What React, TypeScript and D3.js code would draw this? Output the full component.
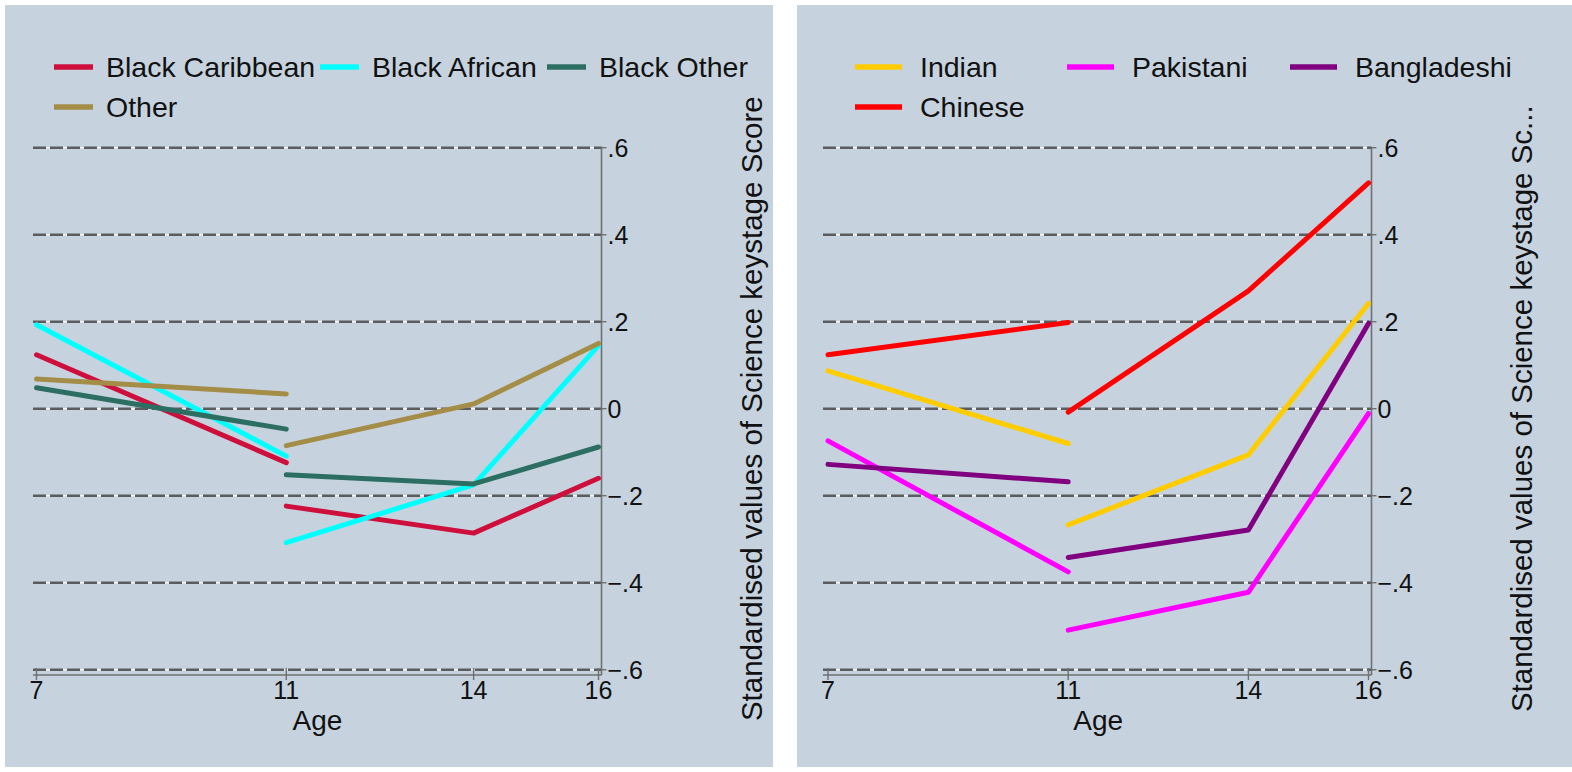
import React from "react";
import * as d3 from "d3";

// ---------- data ----------
const earlyAges = [7, 11];
const lateAges = [11, 14, 16];
const xTickValues = [7, 11, 14, 16];
const yTickValues = [0.6, 0.4, 0.2, 0, -0.2, -0.4, -0.6];
const yTickLabels = [".6", ".4", ".2", "0", "−.2", "−.4", "−.6"];

const leftNames = ["Black Caribbean", "Black African", "Black Other", "Other"];
const leftColors = ["#CE0F3C", "#00FFFF", "#2C6E62", "#A48D47"];
const blackCaribbeanEarly = [0.124, -0.124];
const blackCaribbeanLate = [-0.224, -0.286, -0.16];
const blackAfricanEarly = [0.193, -0.109];
const blackAfricanLate = [-0.308, -0.175, 0.145];
const blackOtherEarly = [0.048, -0.047];
const blackOtherLate = [-0.152, -0.173, -0.088];
const otherEarly = [0.068, 0.034];
const otherLate = [-0.085, 0.011, 0.15];

const rightNames = ["Indian", "Pakistani", "Bangladeshi", "Chinese"];
const rightColors = ["#FFCC00", "#FF00FF", "#800080", "#FF0000"];
const indianEarly = [0.087, -0.08];
const indianLate = [-0.267, -0.106, 0.242];
const pakistaniEarly = [-0.074, -0.375];
const pakistaniLate = [-0.509, -0.422, -0.011];
const bangladeshiEarly = [-0.128, -0.168];
const bangladeshiLate = [-0.342, -0.279, 0.196];
const chineseEarly = [0.124, 0.198];
const chineseLate = [-0.008, 0.271, 0.519];

const yTitleLeft = "Standardised values of Science keystage Score";
const yTitleRight = "Standardised values of Science keystage Sc...";
const xTitle = "Age";

// ---------- layout ----------
const FONT = "'Liberation Sans', Arial, Helvetica, sans-serif";
const BG = "#C6D3DF";

const panels = [
  {
    bgX: 5, bgW: 768,
    xRange: [36.5, 598.5], axisX: 601.5, gridStart: 33, yTitleX: 751,
    legendCols: [54, 320, 547], sampleLen: 39, textOff: 52,
    names: leftNames, colors: leftColors,
    early: [blackCaribbeanEarly, blackAfricanEarly, blackOtherEarly, otherEarly],
    late: [blackCaribbeanLate, blackAfricanLate, blackOtherLate, otherLate],
    yTitle: yTitleLeft,
  },
  {
    bgX: 797, bgW: 775,
    xRange: [828, 1368.5], axisX: 1371.5, gridStart: 823, yTitleX: 1521,
    legendCols: [855, 1067, 1290], sampleLen: 47, textOff: 65,
    names: rightNames, colors: rightColors,
    early: [indianEarly, pakistaniEarly, bangladeshiEarly, chineseEarly],
    late: [indianLate, pakistaniLate, bangladeshiLate, chineseLate],
    yTitle: yTitleRight,
  },
];

const yScale = d3.scaleLinear().domain([-0.6, 0.6]).range([669.7, 147.7]);
const X_AXIS_Y = 675;
const legendRows = [67, 107];

function Panel({ p }: { p: any }) {
  const x = d3.scaleLinear().domain([7, 16]).range(p.xRange);
  const line = d3
    .line<[number, number]>()
    .x((d) => x(d[0]))
    .y((d) => yScale(d[1]));
  const plotCenter = (p.xRange[0] + p.xRange[1]) / 2;
  return (
    <g>
      <rect x={p.bgX} y={5} width={p.bgW} height={762} fill={BG} />
      {/* gridlines */}
      {yTickValues.map((v, i) => (
        <g key={"g" + i}>
          <line x1={p.gridStart} x2={p.axisX} y1={yScale(v)} y2={yScale(v)} stroke="#F4F6F8" strokeWidth={1.6} />
          <line x1={p.gridStart} x2={p.axisX} y1={yScale(v)} y2={yScale(v)} stroke="#5A5C5E" strokeWidth={2.4} strokeDasharray="13,4" />
        </g>
      ))}
      {/* axes */}
      <line x1={p.axisX} x2={p.axisX} y1={yScale(0.6) - 1} y2={X_AXIS_Y} stroke="#6E7072" strokeWidth={1.6} />
      <line x1={p.gridStart} x2={p.axisX} y1={X_AXIS_Y} y2={X_AXIS_Y} stroke="#6E7072" strokeWidth={1.6} />
      {yTickValues.map((v, i) => (
        <g key={"yt" + i}>
          <line x1={p.axisX} x2={p.axisX + 5} y1={yScale(v)} y2={yScale(v)} stroke="#6E7072" strokeWidth={1.4} />
          <text x={p.axisX + 6} y={yScale(v)} dy="0.36em" fontSize={25} fontFamily={FONT} fill="#111">
            {yTickLabels[i]}
          </text>
        </g>
      ))}
      {xTickValues.map((v, i) => (
        <g key={"xt" + i}>
          <line x1={x(v)} x2={x(v)} y1={X_AXIS_Y - 7} y2={X_AXIS_Y + 5} stroke="#6E7072" strokeWidth={1.4} />
          <text x={x(v)} y={699} textAnchor="middle" fontSize={25} fontFamily={FONT} fill="#111">
            {String(v)}
          </text>
        </g>
      ))}
      <text x={plotCenter} y={730} textAnchor="middle" fontSize={28} fontFamily={FONT} fill="#111">
        {xTitle}
      </text>
      <text
        transform={`translate(${p.yTitleX},${yScale(0)}) rotate(-90)`}
        textAnchor="middle"
        dy="0.36em"
        fontSize={29.5}
        fontFamily={FONT}
        fill="#111"
      >
        {p.yTitle}
      </text>
      {/* series */}
      {p.names.map((n: string, i: number) => (
        <g key={"s" + i}>
          <path
            d={line(earlyAges.map((a, j) => [a, p.early[i][j]]) as [number, number][]) || ""}
            fill="none" stroke={p.colors[i]} strokeWidth={5} strokeLinecap="round" strokeLinejoin="round"
          />
          <path
            d={line(lateAges.map((a, j) => [a, p.late[i][j]]) as [number, number][]) || ""}
            fill="none" stroke={p.colors[i]} strokeWidth={5} strokeLinecap="round" strokeLinejoin="round"
          />
        </g>
      ))}
      {/* legend */}
      {p.names.map((n: string, i: number) => {
        const cx = p.legendCols[i % 3];
        const cy = legendRows[Math.floor(i / 3)];
        return (
          <g key={"l" + i}>
            <line x1={cx} x2={cx + p.sampleLen} y1={cy} y2={cy} stroke={p.colors[i]} strokeWidth={5.5} />
            <text x={cx + p.textOff} y={cy} dy="0.36em" fontSize={28.5} fontFamily={FONT} fill="#111">
              {n}
            </text>
          </g>
        );
      })}
    </g>
  );
}

export default function App() {
  return (
    <svg
      width={1572}
      height={772}
      style={{ position: "absolute", left: 0, top: 0, background: "#fff" }}
    >
      <rect x={0} y={0} width={1572} height={772} fill="#fff" />
      {panels.map((p, i) => (
        <Panel key={i} p={p} />
      ))}
    </svg>
  );
}
